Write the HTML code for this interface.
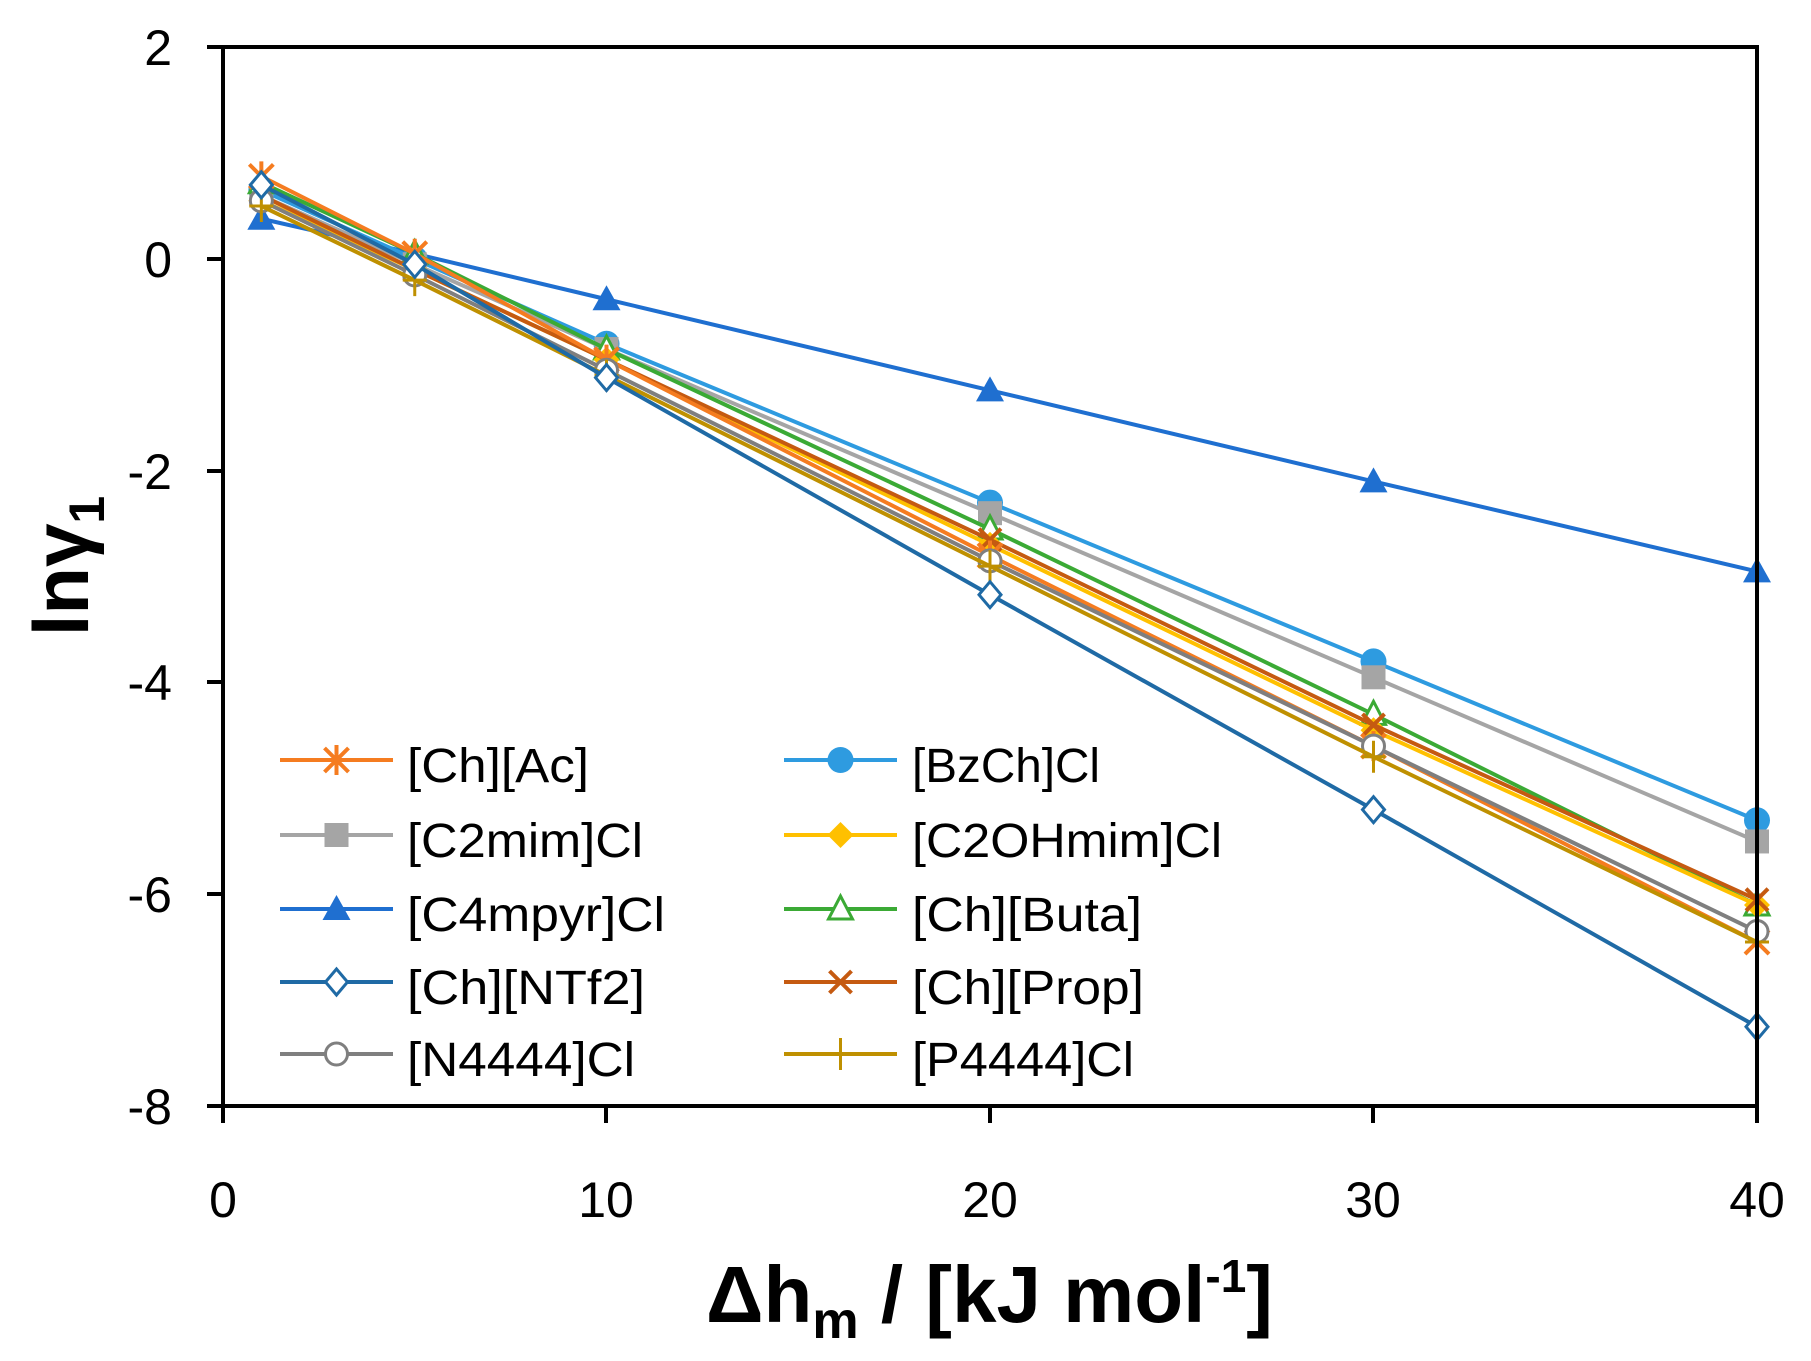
<!DOCTYPE html>
<html><head><meta charset="utf-8"><style>
html,body{margin:0;padding:0;background:#fff}
svg{display:block}
text{font-family:"Liberation Sans",sans-serif}
</style></head><body>
<svg id="s" width="1811" height="1361" viewBox="0 0 1811 1361" xmlns="http://www.w3.org/2000/svg">
<rect width="1811" height="1361" fill="#fff"/>
<g id="series"></g>
<g stroke="#000" stroke-width="4" fill="none">
<rect x="223" y="47" width="1534" height="1059"/>
<line x1="207" y1="47" x2="223" y2="47"/><line x1="207" y1="259" x2="223" y2="259"/><line x1="207" y1="471" x2="223" y2="471"/><line x1="207" y1="682" x2="223" y2="682"/><line x1="207" y1="894" x2="223" y2="894"/><line x1="207" y1="1106" x2="223" y2="1106"/>
<line x1="223" y1="1106" x2="223" y2="1123"/><line x1="606" y1="1106" x2="606" y2="1123"/><line x1="990" y1="1106" x2="990" y2="1123"/><line x1="1373" y1="1106" x2="1373" y2="1123"/><line x1="1757" y1="1106" x2="1757" y2="1123"/>
</g>
<g font-size="50" fill="#000" text-anchor="end">
<text x="172" y="65">2</text><text x="172" y="277">0</text><text x="172" y="489">-2</text><text x="172" y="700">-4</text><text x="172" y="912">-6</text><text x="172" y="1124">-8</text>
</g>
<g font-size="50" fill="#000" text-anchor="middle">
<text x="223" y="1217">0</text><text x="606" y="1217">10</text><text x="990" y="1217">20</text><text x="1373" y="1217">30</text><text x="1757" y="1217">40</text>
</g>
<text transform="translate(88,566) rotate(-90)" font-size="78" font-weight="bold" text-anchor="middle">lnγ<tspan font-size="50" dy="16">1</tspan></text>
<text x="706" y="1322" font-size="80" font-weight="bold">Δh<tspan font-size="52" dy="16">m</tspan><tspan dy="-16"> / [kJ mol</tspan><tspan font-size="46" dy="-30">-1</tspan><tspan dy="30">]</tspan></text>
<g id="legend"></g>
<g font-size="48" fill="#000">
<text x="407" y="782" textLength="182" lengthAdjust="spacingAndGlyphs">[Ch][Ac]</text>
<text x="407" y="857" textLength="236" lengthAdjust="spacingAndGlyphs">[C2mim]Cl</text>
<text x="407" y="931" textLength="258" lengthAdjust="spacingAndGlyphs">[C4mpyr]Cl</text>
<text x="407" y="1004" textLength="238" lengthAdjust="spacingAndGlyphs">[Ch][NTf2]</text>
<text x="407" y="1076" textLength="228" lengthAdjust="spacingAndGlyphs">[N4444]Cl</text>
<text x="912" y="782" textLength="188" lengthAdjust="spacingAndGlyphs">[BzCh]Cl</text>
<text x="912" y="857" textLength="310" lengthAdjust="spacingAndGlyphs">[C2OHmim]Cl</text>
<text x="912" y="931" textLength="230" lengthAdjust="spacingAndGlyphs">[Ch][Buta]</text>
<text x="912" y="1004" textLength="232" lengthAdjust="spacingAndGlyphs">[Ch][Prop]</text>
<text x="912" y="1076" textLength="222" lengthAdjust="spacingAndGlyphs">[P4444]Cl</text>
</g>
</svg>
<script>
var NS="http://www.w3.org/2000/svg";
function X(v){return 223+v*38.35}function Y(v){return 259-v*105.9}
var xs=[1,5,10,20,30,40];
var S=[
["#1F6FD0","tri",[0.38,0.05,-0.38,-1.24,-2.1,-2.95]],
["#2E9BE0","circ",[0.65,0.0,-0.8,-2.3,-3.8,-5.3]],
["#A5A5A5","sq",[0.6,-0.05,-0.85,-2.4,-3.95,-5.5]],
["#3BAA35","otri",[0.72,0.05,-0.85,-2.55,-4.3,-6.1]],
["#FFC000","dia",[0.55,-0.1,-0.95,-2.7,-4.45,-6.1]],
["#C55A11","x",[0.6,-0.1,-0.95,-2.65,-4.4,-6.05]],
["#F57C20","star",[0.78,0.05,-0.95,-2.8,-4.6,-6.45]],
["#7F7F7F","ocirc",[0.55,-0.15,-1.05,-2.85,-4.6,-6.35]],
["#BF9000","plus",[0.5,-0.2,-1.1,-2.9,-4.7,-6.45]],
["#1F6AA5","odia",[0.7,-0.05,-1.12,-3.17,-5.2,-7.25]]
];
function el(t,a,p){var e=document.createElementNS(NS,t);for(var k in a)e.setAttribute(k,a[k]);p.appendChild(e);return e}
function mk(type,c,x,y,p){
switch(type){
case"tri":el("polygon",{points:(x)+","+(y-14)+" "+(x-14)+","+(y+11)+" "+(x+14)+","+(y+11),fill:c},p);break;
case"otri":el("polygon",{points:(x)+","+(y-13)+" "+(x-12)+","+(y+10)+" "+(x+12)+","+(y+10),fill:"#fff",stroke:c,"stroke-width":3},p);break;
case"circ":el("circle",{cx:x,cy:y,r:13,fill:c},p);break;
case"ocirc":el("circle",{cx:x,cy:y,r:11,fill:"#fff",stroke:c,"stroke-width":3},p);break;
case"sq":el("rect",{x:x-12,y:y-12,width:24,height:24,fill:c},p);break;
case"dia":el("polygon",{points:x+","+(y-13)+" "+(x+13)+","+y+" "+x+","+(y+13)+" "+(x-13)+","+y,fill:c},p);break;
case"odia":el("polygon",{points:x+","+(y-13)+" "+(x+11)+","+y+" "+x+","+(y+13)+" "+(x-11)+","+y,fill:"#fff",stroke:c,"stroke-width":3},p);break;
case"x":el("path",{d:"M"+(x-11)+" "+(y-11)+"L"+(x+11)+" "+(y+11)+"M"+(x+11)+" "+(y-11)+"L"+(x-11)+" "+(y+11),stroke:c,"stroke-width":4},p);break;
case"star":el("path",{d:"M"+(x-12)+" "+(y-12)+"L"+(x+12)+" "+(y+12)+"M"+(x+12)+" "+(y-12)+"L"+(x-12)+" "+(y+12)+"M"+x+" "+(y-15)+"L"+x+" "+(y+15),stroke:c,"stroke-width":4},p);break;
case"plus":el("path",{d:"M"+x+" "+(y-16)+"L"+x+" "+(y+16)+"M"+(x-12)+" "+y+"L"+(x+12)+" "+y,stroke:c,"stroke-width":3},p);break;
}}
var g=document.getElementById("series");
S.forEach(function(s){var d="";xs.forEach(function(v,i){d+=(i?"L":"M")+X(v)+" "+Y(s[2][i])});
el("path",{d:d,fill:"none",stroke:s[0],"stroke-width":4},g);
xs.forEach(function(v,i){mk(s[1],s[0],X(v),Y(s[2][i]),g)});});
var L=document.getElementById("legend");
var leg=[["#F57C20","star",0,760],["#A5A5A5","sq",0,835],["#1F6FD0","tri",0,909],["#1F6AA5","odia",0,982],["#7F7F7F","ocirc",0,1054],
["#2E9BE0","circ",1,760],["#FFC000","dia",1,835],["#3BAA35","otri",1,909],["#C55A11","x",1,982],["#BF9000","plus",1,1054]];
leg.forEach(function(l){var x1=l[2]?784:280,x2=l[2]?897:393;
el("line",{x1:x1,y1:l[3],x2:x2,y2:l[3],stroke:l[0],"stroke-width":4},L);mk(l[1],l[0],(x1+x2)/2,l[3],L);});
</script>
</body></html>
